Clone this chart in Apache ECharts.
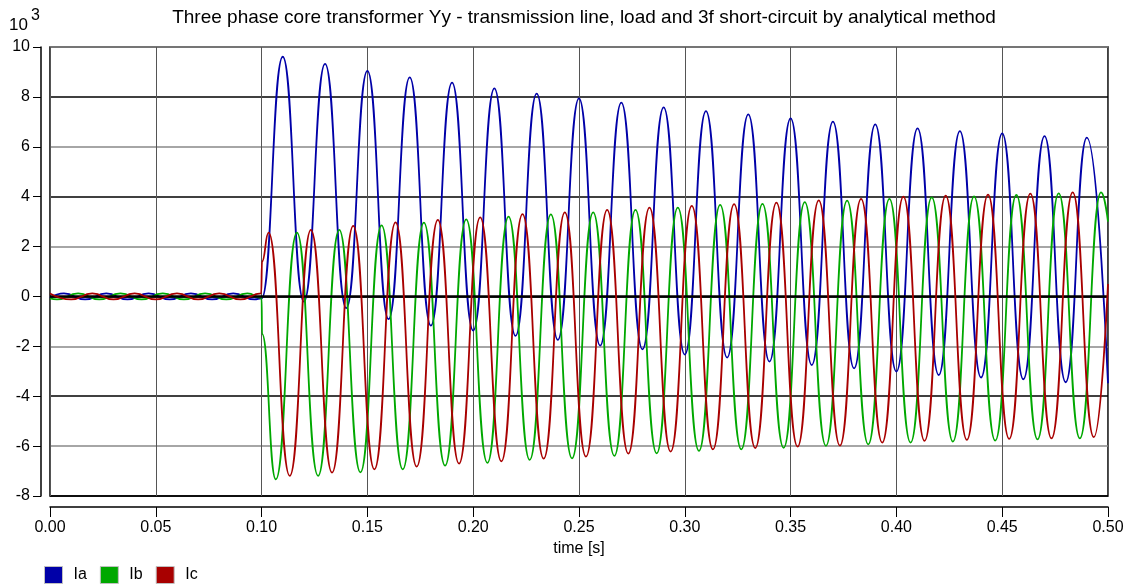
<!DOCTYPE html>
<html>
<head>
<meta charset="utf-8">
<script src="https://cdn.jsdelivr.net/npm/echarts@6/dist/echarts.min.js"></script>
<style>
html,body{margin:0;padding:0;background:#fff;}
#chart{width:1136px;height:588px;}
</style>
</head>
<body>
<div id="chart"></div>
<script>
// ---- data (current in kA, i.e. x10^3 A) ----
var titleText = 'Three phase core transformer Yy - transmission line, load and 3f short-circuit by analytical method';
var seriesNames = ['Ia', 'Ib', 'Ic'];
var xTickLabels = ['0.00','0.05','0.10','0.15','0.20','0.25','0.30','0.35','0.40','0.45','0.50'];

var iaTime = [0, 0.0066, 0.0166, 0.0266, 0.0366, 0.0466, 0.0566, 0.0666, 0.0766, 0.0866, 0.0966, 0.1,
  0.11, 0.12, 0.13, 0.14, 0.15, 0.16, 0.17, 0.18, 0.19, 0.20, 0.21, 0.22, 0.23, 0.24, 0.25, 0.26, 0.27, 0.28, 0.29, 0.30,
  0.31, 0.32, 0.33, 0.34, 0.35, 0.36, 0.37, 0.38, 0.39, 0.40, 0.41, 0.42, 0.43, 0.44, 0.45, 0.46, 0.47, 0.48, 0.49, 0.50];
var iaValue = [-0.06, 0.12, -0.12, 0.12, -0.12, 0.12, -0.12, 0.12, -0.12, 0.12, -0.12, -0.08,
  9.61, -0.21, 9.32, -0.47, 9.04, -0.91, 8.78, -1.17, 8.57, -1.37, 8.34, -1.58, 8.13, -1.74, 7.94, -1.97, 7.77, -2.12, 7.58, -2.33,
  7.43, -2.45, 7.30, -2.61, 7.14, -2.75, 7.01, -2.88, 6.90, -3.01, 6.74, -3.15, 6.63, -3.25, 6.54, -3.32, 6.43, -3.44, 6.37, -3.48];

var ibTime = [0, 0.0033, 0.0133, 0.0233, 0.0333, 0.0433, 0.0533, 0.0633, 0.0733, 0.0833, 0.0933, 0.1, 0.1002,
  0.1067, 0.1167, 0.1267, 0.1367, 0.1467, 0.1567, 0.1667, 0.1767, 0.1867, 0.1967, 0.2067, 0.2167, 0.2267, 0.2367, 0.2467, 0.2567, 0.2667, 0.2767, 0.2867, 0.2967,
  0.3067, 0.3167, 0.3267, 0.3367, 0.3467, 0.3567, 0.3667, 0.3767, 0.3867, 0.3967, 0.4067, 0.4167, 0.4267, 0.4367, 0.4467, 0.4567, 0.4667, 0.4767, 0.4867, 0.4967, 0.50];
var ibValue = [-0.08, -0.12, 0.12, -0.12, 0.12, -0.12, 0.12, -0.12, 0.12, -0.12, 0.12, -0.06, -1.5,
  -7.33, 2.56, -7.19, 2.67, -7.05, 2.85, -6.93, 2.96, -6.78, 3.09, -6.67, 3.20, -6.55, 3.29, -6.49, 3.37, -6.39, 3.47, -6.29, 3.56,
  -6.19, 3.67, -6.13, 3.71, -6.07, 3.78, -5.99, 3.84, -5.93, 3.91, -5.86, 3.97, -5.82, 4.01, -5.78, 4.07, -5.73, 4.13, -5.69, 4.17, 3.0];

var icTime = [0, 0.01, 0.02, 0.03, 0.04, 0.05, 0.06, 0.07, 0.08, 0.09, 0.0998, 0.1002,
  0.1033, 0.1133, 0.1233, 0.1333, 0.1433, 0.1533, 0.1633, 0.1733, 0.1833, 0.1933, 0.2033, 0.2133, 0.2233, 0.2333, 0.2433, 0.2533, 0.2633, 0.2733, 0.2833, 0.2933,
  0.3033, 0.3133, 0.3233, 0.3333, 0.3433, 0.3533, 0.3633, 0.3733, 0.3833, 0.3933, 0.4033, 0.4133, 0.4233, 0.4333, 0.4433, 0.4533, 0.4633, 0.4733, 0.4833, 0.4933, 0.50];
var icValue = [0.12, -0.12, 0.12, -0.12, 0.12, -0.12, 0.12, -0.12, 0.12, -0.12, 0.12, 1.4,
  2.56, -7.19, 2.67, -7.06, 2.83, -6.93, 2.97, -6.82, 3.07, -6.70, 3.17, -6.61, 3.30, -6.50, 3.37, -6.42, 3.47, -6.30, 3.56, -6.22,
  3.63, -6.13, 3.70, -6.08, 3.76, -6.02, 3.85, -5.98, 3.91, -5.86, 4.00, -5.79, 4.04, -5.75, 4.08, -5.71, 4.12, -5.69, 4.17, -5.64, 0.5];

var colors = ['#0000a8', '#00a800', '#a80000'];

function pairs(t, v) { return t.map(function (x, i) { return [x, v[i]]; }); }

var chart = echarts.init(document.getElementById('chart'), null, {renderer: 'canvas'});
var FONT = 'Liberation Sans, Arial, sans-serif';

var lineSeries = [pairs(iaTime, iaValue), pairs(ibTime, ibValue), pairs(icTime, icValue)].map(function (d, i) {
  var s = {
    name: seriesNames[i],
    type: 'line',
    data: d,
    showSymbol: false,
    smooth: 0.5,
    smoothMonotone: 'x',
    animation: false,
    lineStyle: {color: colors[i], width: 1.8},
    itemStyle: {color: colors[i]},
    z: 3 + i
  };
  if (i === 0) {
    s.markLine = {
      silent: true,
      symbol: 'none',
      label: {show: false},
      lineStyle: {color: '#000', width: 2.5, type: 'solid'},
      data: [{yAxis: 0}],
      animation: false
    };
  }
  return s;
});

chart.setOption({
  backgroundColor: '#fff',
  animation: false,
  textStyle: {fontFamily: FONT},
  title: {
    text: titleText,
    left: 579,
    textAlign: 'center',
    top: 3,
    textStyle: {fontSize: 19, fontWeight: 'normal', color: '#000', fontFamily: FONT}
  },
  graphic: [
    {type: 'text', left: 9, top: 17, style: {text: '10', font: '17px ' + FONT, fill: '#000'}},
    {type: 'text', left: 31, top: 8, style: {text: '3', font: '16px ' + FONT, fill: '#000'}}
  ],
  legend: {
    data: seriesNames,
    left: 44,
    top: 566,
    padding: 0,
    icon: 'rect',
    itemWidth: 18,
    itemHeight: 17,
    itemGap: 13,
    itemStyle: {borderColor: '#c0c0c0', borderWidth: 1},
    textStyle: {fontSize: 16, color: '#000', fontFamily: FONT, padding: [0, 0, 0, 6]}
  },
  grid: {
    left: 50, right: 28, top: 47, bottom: 92,
    show: true, borderColor: '#000', borderWidth: 1.5,
    containLabel: false
  },
  xAxis: {
    type: 'value',
    min: 0, max: 0.5, interval: 0.05,
    offset: 11,
    name: 'time [s]',
    nameLocation: 'middle',
    nameGap: 33,
    nameTextStyle: {fontSize: 16, color: '#000', fontFamily: FONT},
    axisLine: {show: true, onZero: false, lineStyle: {color: '#000', width: 1.5}},
    axisTick: {show: true, length: 10, lineStyle: {color: '#000', width: 1}},
    axisLabel: {
      fontSize: 16, color: '#000', margin: 13, fontFamily: FONT,
      formatter: function (v) { var i = Math.round(v / 0.05); return xTickLabels[i]; }
    },
    splitLine: {show: true, lineStyle: {color: '#555', width: 1}}
  },
  yAxis: {
    type: 'value',
    min: -8, max: 10, interval: 2,
    offset: 9,
    axisLine: {show: true, onZero: false, lineStyle: {color: '#000', width: 1.5}},
    axisTick: {show: true, length: 8, lineStyle: {color: '#000', width: 1}},
    axisLabel: {fontSize: 16, color: '#000', margin: 11, fontFamily: FONT},
    splitLine: {show: true, lineStyle: {color: ['#000', '#888'], width: 1.5}}
  },
  series: lineSeries
});
</script>
</body>
</html>
